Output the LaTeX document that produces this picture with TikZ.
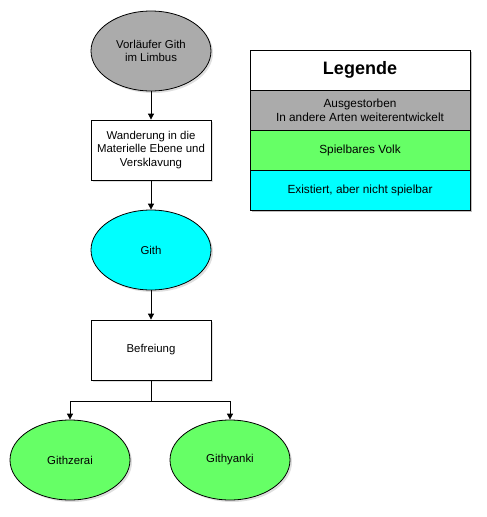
\documentclass[tikz,border=0pt]{standalone}
\usepackage{fontspec}
\setmainfont{Liberation Sans}
\usetikzlibrary{shapes.geometric,arrows.meta,shadows}
\definecolor{extinct}{HTML}{ABABAB}
\definecolor{playable}{HTML}{66FF66}
\definecolor{notplay}{HTML}{00FFFF}
\tikzset{
  box/.style={draw, thick, fill=white, minimum width=120pt, minimum height=60pt, align=center, font=\fontsize{11.4}{13.8}\selectfont, drop shadow={opacity=0.25, shadow xshift=2pt, shadow yshift=-2pt}},
  blob/.style={draw, ellipse, thick, minimum width=120pt, minimum height=80pt, align=center, font=\fontsize{11.4}{13.8}\selectfont, drop shadow={opacity=0.25, shadow xshift=2pt, shadow yshift=-2pt}},
  legrow/.style={draw, thick, minimum width=220pt, minimum height=40pt, align=center, font=\fontsize{11.8}{14}\selectfont},
  flow/.style={-{Triangle[length=6pt,width=6pt]}, thick},
}
\begin{document}
\begin{tikzpicture}[x=1pt, y=-1pt]
\useasboundingbox (0,0) rectangle (487,517);
% main line
\node[blob, fill=extinct] (vorl) at (151,51) {Vorläufer Gith\\im Limbus};
\node[box] (wand) at (151,150) {Wanderung in die\\Materielle Ebene und\\Versklavung};
\node[blob, fill=notplay] (gith) at (151,250) {Gith};
\node[box] (befr) at (151,350) {Befreiung};
\node[blob, fill=playable] (zerai) at (70,460) {Githzerai};
\node[blob, fill=playable] (yanki) at (230,460) {Githyanki};
\coordinate (split) at (151,401);
\draw[flow] (vorl) -- (wand);
\draw[flow] (wand) -- (gith);
\draw[flow] (gith) -- (befr);
\draw[thick] (befr) -- (split);
\draw[flow] (split) -| (zerai);
\draw[flow] (split) -| (yanki);
% legend
\begin{scope}
\fill[black, opacity=0.25] (252,52) rectangle (472,212);
\node[legrow, fill=white, font=\bfseries\fontsize{18}{21}\selectfont] (leg) at (360,70) {Legende};
\node[legrow, fill=extinct] (legext) at (360,110) {Ausgestorben\\In andere Arten weiterentwickelt};
\node[legrow, fill=playable] (legplay) at (360,150) {Spielbares Volk};
\node[legrow, fill=notplay] (legnot) at (360,190) {Existiert, aber nicht spielbar};
\end{scope}
\end{tikzpicture}
\end{document}
